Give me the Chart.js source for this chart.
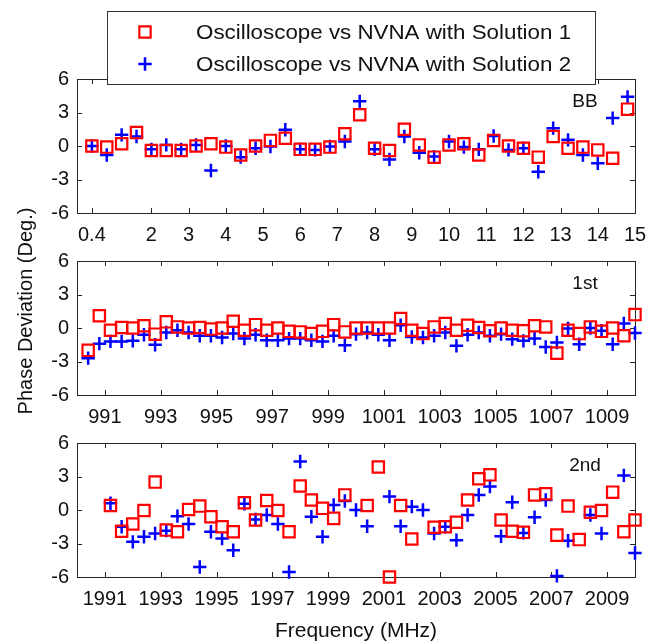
<!DOCTYPE html>
<html>
<head>
<meta charset="utf-8">
<script src="https://cdn.jsdelivr.net/npm/chart.js"></script>
<style>
  body { margin: 0; background: #fff; }
  #wrap { position: relative; width: 650px; height: 644px; }
  canvas { position: absolute; left: 0; top: 0; }
</style>
</head>
<body>
<div id="wrap">
  <canvas id="bb" width="650" height="644"></canvas>
  <canvas id="first" width="650" height="644"></canvas>
  <canvas id="second" width="650" height="644"></canvas>
</div>
<script>
'use strict';

const seriesNames = ['Oscilloscope vs NVNA with Solution 1', 'Oscilloscope vs NVNA with Solution 2'];
const yTicks = [-6, -3, 0, 3, 6];

// BB band
const freqBB = [0.4, 0.8, 1.2, 1.6, 2.0, 2.4, 2.8, 3.2, 3.6, 4.0, 4.4, 4.8, 5.2, 5.6, 6.0, 6.4, 6.8, 7.2, 7.6,
    8.0, 8.4, 8.8, 9.2, 9.6, 10.0, 10.4, 10.8, 11.2, 11.6, 12.0, 12.4, 12.8, 13.2, 13.6, 14.0, 14.4, 14.8];
const sol1BB = [0, -0.1, 0.2, 1.2, -0.4, -0.4, -0.4, 0, 0.2, -0.1, -0.8, 0, 0.5, 0.7, -0.3, -0.3, -0.1, 1.1, 2.8,
    -0.2, -0.4, 1.5, 0.1, -1.0, 0.1, 0.2, -0.8, 0.5, 0, -0.2, -1.0, 0.85, -0.2, -0.1, -0.35, -1.1, 3.3];
const sol2BB = [0, -0.8, 1.0, 0.85, -0.3, 0.1, -0.3, 0.1, -2.2, 0, -1.0, -0.2, -0.05, 1.45, -0.3, -0.35, -0.05, 0.4, 4.0,
    -0.3, -1.2, 0.85, -0.6, -0.95, 0.4, -0.1, -0.3, 0.9, -0.35, -0.2, -2.3, 1.6, 0.55, -0.8, -1.55, 2.5, 4.4];
const xTicksBB = [0.4, 2, 3, 4, 5, 6, 7, 8, 9, 10, 11, 12, 13, 14, 15];

// 1st harmonic
const freq1st = [990.4, 990.8, 991.2, 991.6, 992.0, 992.4, 992.8, 993.2, 993.6, 994.0,
    994.4, 994.8, 995.2, 995.6, 996.0, 996.4, 996.8, 997.2, 997.6, 998.0,
    998.4, 998.8, 999.2, 999.6, 1000.0, 1000.4, 1000.8, 1001.2, 1001.6, 1002.0,
    1002.4, 1002.8, 1003.2, 1003.6, 1004.0, 1004.4, 1004.8, 1005.2, 1005.6, 1006.0,
    1006.4, 1006.8, 1007.2, 1007.6, 1008.0, 1008.4, 1008.8, 1009.2, 1009.6, 1010.0];
const sol11st = [-2.0, 1.1, -0.2, 0.05, 0, 0.2, -0.55, 0.55, 0.1, 0,
    0.05, -0.1, 0, 0.6, -0.2, 0.3, -0.2, 0, -0.3, -0.35,
    -0.5, -0.3, 0.3, -0.35, 0, 0, 0, 0, 0.85, -0.2,
    -0.5, 0.1, 0.4, -0.2, 0.25, 0.05, -0.25, 0, -0.2, -0.25,
    0.2, 0.1, -2.25, -0.2, -0.5, 0.1, -0.3, 0, -0.7, 1.2];
const sol21st = [-2.7, -1.4, -1.2, -1.2, -1.15, -0.6, -1.5, -0.4, -0.2, -0.4,
    -0.7, -0.7, -0.85, -0.5, -0.95, -0.6, -1.1, -1.1, -0.95, -0.95,
    -1.1, -1.2, -0.7, -1.55, -0.55, -0.4, -0.6, -1.1, 0.25, -0.8,
    -0.85, -0.7, -0.4, -1.6, -0.6, -0.4, -0.7, -0.55, -1.0, -1.15,
    -0.95, -1.7, -1.3, -0.05, -1.45, 0, -0.25, -1.45, 0.4, -0.45];
const xTicks1st = [991, 993, 995, 997, 999, 1001, 1003, 1005, 1007, 1009];

// 2nd harmonic
const freq2nd = [1991.2, 1991.6, 1992.0, 1992.4, 1992.8, 1993.2, 1993.6, 1994.0, 1994.4, 1994.8,
    1995.2, 1995.6, 1996.0, 1996.4, 1996.8, 1997.2, 1997.6, 1998.0, 1998.4, 1998.8,
    1999.2, 1999.6, 2000.0, 2000.4, 2000.8, 2001.2, 2001.6, 2002.0, 2002.4, 2002.8,
    2003.2, 2003.6, 2004.0, 2004.4, 2004.8, 2005.2, 2005.6, 2006.0, 2006.4, 2006.8,
    2007.2, 2007.6, 2008.0, 2008.4, 2008.8, 2009.2, 2009.6, 2010.0];
const sol12nd = [0.4, -1.9, -1.25, -0.05, 2.5, -1.8, -1.95, 0.05, 0.35, -0.6,
    -1.5, -1.95, 0.65, -0.9, 0.85, -0.05, -1.95, 2.15, 0.9, 0.15,
    -0.75, 1.35, null, 0.4, 3.85, -6.0, 0.4, -2.6, null, -1.55,
    -1.5, -1.1, 0.9, 2.8, 3.15, -0.9, -1.9, -2.0, 1.35, 1.45,
    -2.25, 0.35, -2.65, -0.2, -0.05, 1.6, -1.95, -0.9];
const sol22nd = [0.6, -1.5, -2.85, -2.4, -2.1, -1.85, -0.55, -1.25, -5.1, -1.95,
    -2.55, -3.6, 0.55, -0.85, -0.45, -1.25, -5.55, 4.35, -0.6, -2.4,
    0.45, 0.8, 0, -1.45, null, 1.2, -1.45, 0.3, 0, -2.1,
    -1.5, -2.7, -0.45, 1.35, 2.1, -2.35, 0.7, -2.05, -0.65, 0.9,
    -5.9, -2.75, null, -0.45, -2.1, null, 3.1, -3.85];
const xTicks2nd = [1991, 1993, 1995, 1997, 1999, 2001, 2003, 2005, 2007, 2009];

const FONT = "'Liberation Sans', Arial, sans-serif";
const INK = '#111';
Chart.defaults.font.family = FONT;
Chart.defaults.color = INK;

// matlab style box with inward ticks on all four sides
const axesBox = {
    id: 'axesBox',
    beforeDatasetsDraw(chart) {
        const { ctx, chartArea: a, scales } = chart;
        const len = 5;
        ctx.save();
        ctx.strokeStyle = '#262626';
        ctx.lineWidth = 1;
        ctx.beginPath();
        scales.x.ticks.forEach(t => {
            const px = Math.round(scales.x.getPixelForValue(t.value)) + 0.5;
            ctx.moveTo(px, a.bottom); ctx.lineTo(px, a.bottom - len);
            ctx.moveTo(px, a.top); ctx.lineTo(px, a.top + len);
        });
        scales.y.ticks.forEach(t => {
            const py = Math.round(scales.y.getPixelForValue(t.value)) + 0.5;
            ctx.moveTo(a.left, py); ctx.lineTo(a.left + len, py);
            ctx.moveTo(a.right, py); ctx.lineTo(a.right - len, py);
        });
        ctx.stroke();
        ctx.strokeRect(Math.round(a.left) + 0.5, Math.round(a.top) + 0.5,
            Math.round(a.right - a.left), Math.round(a.bottom - a.top));
        ctx.restore();
    },
    afterDraw(chart, args, opts) {
        const { ctx, chartArea: a } = chart;
        ctx.save();
        ctx.fillStyle = INK;
        ctx.font = '19px ' + FONT;
        ctx.textAlign = 'center';
        ctx.textBaseline = 'middle';
        ctx.fillText(opts.tag, a.right - 50, a.top + 23);
        ctx.restore();
    }
};

function drawMarker(ctx, style, x, y, r, color, lw) {
    ctx.save();
    ctx.strokeStyle = color;
    ctx.lineWidth = lw;
    ctx.beginPath();
    if (style === 'rect') {
        const s = Math.SQRT1_2 * r;
        ctx.rect(x - s, y - s, 2 * s, 2 * s);
    } else {
        ctx.moveTo(x - r, y); ctx.lineTo(x + r, y);
        ctx.moveTo(x, y - r); ctx.lineTo(x, y + r);
    }
    ctx.stroke();
    ctx.restore();
}

const boxLegend = {
    id: 'boxLegend',
    afterDraw(chart) {
        const ctx = chart.ctx;
        ctx.save();
        ctx.fillStyle = '#fff';
        ctx.fillRect(107, 11, 488, 73);
        ctx.strokeStyle = '#333';
        ctx.lineWidth = 1;
        ctx.strokeRect(107.5, 11.5, 488, 73);
        ctx.textBaseline = 'middle';
        chart.data.datasets.forEach((ds, i) => {
            const y = 32 + i * 32;
            drawMarker(ctx, ds.pointStyle, 145, y, ds.pointRadius, ds.borderColor, ds.borderWidth);
            // the source figure is a little wider than tall, so stretch the text to match
            ctx.save();
            ctx.translate(196, y + 1);
            ctx.scale(1.09, 1);
            ctx.font = '20.5px ' + FONT;
            ctx.fillStyle = INK;
            ctx.fillText(ds.label, 0, 0);
            ctx.restore();
        });
        ctx.restore();
    }
};

const yTitle = {
    id: 'yTitle',
    afterDraw(chart) {
        const ctx = chart.ctx;
        ctx.save();
        ctx.translate(26, 311);
        ctx.rotate(-Math.PI / 2);
        ctx.font = '20px ' + FONT;
        ctx.fillStyle = INK;
        ctx.textAlign = 'center';
        ctx.textBaseline = 'middle';
        ctx.fillText('Phase Deviation (Deg.)', 0, 0);
        ctx.restore();
    }
};

function points(freq, vals) {
    return freq.map((f, i) => ({ x: f, y: vals[i] }));
}

function makePanel(id, freq, s1, s2, xMin, xMax, xTicks, tag, top, bottomPad, axisH, extra, withTitle) {
    return new Chart(document.getElementById(id), {
        type: 'scatter',
        data: {
            datasets: [{
                label: seriesNames[0],
                data: points(freq, s1),
                pointStyle: 'rect',
                pointRadius: 8,
                borderColor: '#ff0000',
                backgroundColor: 'rgba(0,0,0,0)',
                borderWidth: 2.2,
                clip: false
            }, {
                label: seriesNames[1],
                data: points(freq, s2),
                pointStyle: 'cross',
                pointRadius: 6.7,
                borderColor: '#0000ff',
                backgroundColor: '#0000ff',
                borderWidth: 2.5,
                clip: false
            }]
        },
        options: {
            responsive: false,
            animation: false,
            devicePixelRatio: 1,
            events: [],
            layout: { padding: { left: 0, right: 15, top: top, bottom: bottomPad } },
            plugins: {
                legend: { display: false },
                tooltip: { enabled: false },
                axesBox: { tag: tag }
            },
            scales: {
                x: {
                    type: 'linear',
                    min: xMin,
                    max: xMax,
                    grid: { display: false, drawTicks: false },
                    border: { display: false },
                    afterBuildTicks: s => { s.ticks = xTicks.map(v => ({ value: v })); },
                    afterFit: s => { s.height = axisH; s.paddingLeft = 0; s.paddingRight = 0; },
                    ticks: {
                        autoSkip: false, maxRotation: 0, padding: 10,
                        font: { size: 20 }, color: INK,
                        callback: v => String(v)
                    },
                    title: withTitle ? {
                        display: true, text: 'Frequency (MHz)',
                        font: { size: 21 }, color: INK, padding: 0
                    } : { display: false }
                },
                y: {
                    min: -6,
                    max: 6,
                    grid: { display: false, drawTicks: false },
                    border: { display: false },
                    afterBuildTicks: s => { s.ticks = yTicks.map(v => ({ value: v })); },
                    afterFit: s => { s.width = 77; s.paddingTop = 0; s.paddingBottom = 0; },
                    ticks: {
                        padding: 8, font: { size: 20 }, color: INK,
                        callback: v => String(v)
                    }
                }
            }
        },
        plugins: [axesBox].concat(extra)
    });
}

makePanel('bb', freqBB, sol1BB, sol2BB, 0, 15, xTicksBB, 'BB', 79, 401, 30, [boxLegend], false);
makePanel('first', freq1st, sol11st, sol21st, 990, 1010, xTicks1st, '1st', 261, 219, 30, [yTitle], false);
makePanel('second', freq2nd, sol12nd, sol22nd, 1990, 2010, xTicks2nd, '2nd', 443, 0, 67, [], true);
</script>
</body>
</html>
